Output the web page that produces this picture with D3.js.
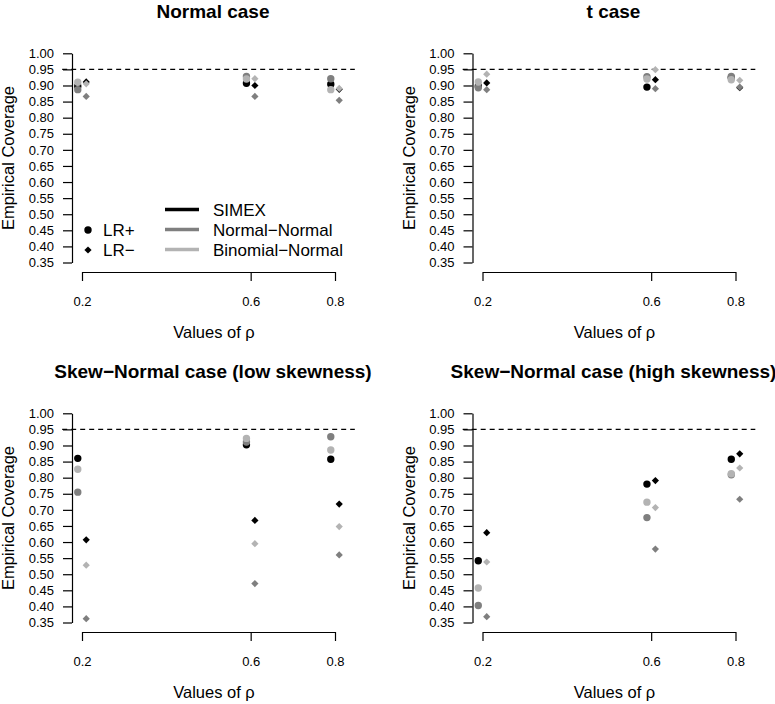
<!DOCTYPE html>
<html>
<head>
<meta charset="utf-8">
<script src="https://cdn.jsdelivr.net/npm/d3@7"></script>
<style>
  html, body { margin: 0; padding: 0; background: #fff; }
  svg { display: block; font-family: "Liberation Sans", Arial, Helvetica, sans-serif; }
</style>
</head>
<body>
<svg id="chart" width="775" height="704"></svg>
<script>
// ---------- data ----------
const rhoValues = [0.2, 0.6, 0.8];
const yTickValues = [0.35, 0.40, 0.45, 0.50, 0.55, 0.60, 0.65, 0.70, 0.75, 0.80, 0.85, 0.90, 0.95, 1.00];
const methods = ["SIMEX", "Normal\u2212Normal", "Binomial\u2212Normal"];
const measures = ["LR+", "LR\u2212"];
const nominal = 0.95;
const panelTitles = [
  "Normal case",
  "t case",
  "Skew\u2212Normal case (low skewness)",
  "Skew\u2212Normal case (high skewness)"
];

// each array: rows = SIMEX, Normal-Normal, Binomial-Normal ; columns = rho 0.2, 0.6, 0.8
const normalLRpos = [[0.898, 0.907, 0.904], [0.887, 0.928, 0.921], [0.910, 0.920, 0.887]];
const normalLRneg = [[0.911, 0.900, 0.888], [0.866, 0.866, 0.854], [0.905, 0.921, 0.891]];
const tLRpos      = [[0.898, 0.895, 0.924], [0.893, 0.927, 0.928], [0.911, 0.920, 0.918]];
const tLRneg      = [[0.908, 0.918, 0.893], [0.887, 0.890, 0.895], [0.935, 0.949, 0.916]];
const lowLRpos    = [[0.860, 0.902, 0.857], [0.755, 0.911, 0.927], [0.826, 0.922, 0.886]];
const lowLRneg    = [[0.607, 0.667, 0.718], [0.362, 0.471, 0.560], [0.528, 0.595, 0.648]];
const highLRpos   = [[0.542, 0.780, 0.857], [0.403, 0.676, 0.809], [0.457, 0.724, 0.812]];
const highLRneg   = [[0.629, 0.791, 0.874], [0.368, 0.578, 0.733], [0.538, 0.707, 0.830]];

// ---------- styling ----------
const methodColors = ["#000000", "#7f7f7f", "#b3b3b3"];
const svg = d3.select("#chart");

const panels = [
  { title: panelTitles[0], pos: normalLRpos, neg: normalLRneg, col: 0, row: 0, legend: true },
  { title: panelTitles[1], pos: tLRpos, neg: tLRneg, col: 1, row: 0 },
  { title: panelTitles[2], pos: lowLRpos, neg: lowLRneg, col: 0, row: 1 },
  { title: panelTitles[3], pos: highLRpos, neg: highLRneg, col: 1, row: 1 }
];

const jitter = 0.01;
const circleSym = d3.symbol().type(d3.symbolCircle).size(Math.PI * 3.7 * 3.7);
const diamondSym = d3.symbol().type(d3.symbolSquare).size(26);

panels.forEach(p => {
  const xo = p.col * 400.5;
  const yo = p.row * 360;
  const g = svg.append("g");

  const x = d3.scaleLinear().domain([0.2, 0.8]).range([82 + xo, 335 + xo]);
  const y = d3.scaleLinear().domain([0.35, 1.0]).range([262.5 + yo, 53.3 + yo]);

  // reference line
  g.append("line")
    .attr("x1", x(0.153)).attr("x2", x(0.847))
    .attr("y1", y(nominal)).attr("y2", y(nominal))
    .attr("stroke", "#000").attr("stroke-width", 1.2)
    .attr("stroke-dasharray", "5,4");

  // y axis
  const yAxis = d3.axisLeft(y).tickValues(yTickValues)
    .tickFormat(d3.format(".2f")).tickSize(9).tickSizeOuter(0).tickPadding(9);
  const ya = g.append("g").attr("transform", `translate(${72 + xo},0)`).call(yAxis);
  ya.selectAll("text").attr("font-size", 13).attr("fill", "#000")
    .attr("font-family", "'Liberation Sans', Arial, sans-serif");
  ya.selectAll("path, line").attr("stroke", "#000").attr("stroke-width", 1.2);

  // x axis
  const xAxis = d3.axisBottom(x).tickValues(rhoValues)
    .tickFormat(d3.format(".1f")).tickSize(9).tickSizeOuter(0).tickPadding(16);
  const xa = g.append("g").attr("transform", `translate(0,${272 + yo})`).call(xAxis);
  xa.selectAll("text").attr("font-size", 13).attr("fill", "#000")
    .attr("font-family", "'Liberation Sans', Arial, sans-serif");
  xa.selectAll("path, line").attr("stroke", "#000").attr("stroke-width", 1.2);

  // points
  methods.forEach((m, mi) => {
    g.selectAll(null).data(p.pos[mi]).enter().append("path")
      .attr("d", circleSym)
      .attr("transform", (d, i) => `translate(${x(rhoValues[i] - jitter)},${y(d)})`)
      .attr("fill", methodColors[mi]);
  });
  methods.forEach((m, mi) => {
    g.selectAll(null).data(p.neg[mi]).enter().append("path")
      .attr("d", diamondSym)
      .attr("transform", (d, i) => `translate(${x(rhoValues[i] + jitter)},${y(d)}) rotate(45)`)
      .attr("fill", methodColors[mi]);
  });

  // title
  g.append("text").attr("x", 213 + xo).attr("y", 17.5 + yo)
    .attr("text-anchor", "middle").attr("font-size", 19).attr("font-weight", "bold")
    .text(p.title);

  // axis titles
  g.append("text").attr("x", 214 + xo).attr("y", 338 + yo)
    .attr("text-anchor", "middle").attr("font-size", 16.5)
    .text("Values of \u03c1");
  g.append("text")
    .attr("transform", `translate(${14 + xo},${158 + yo}) rotate(-90)`)
    .attr("text-anchor", "middle").attr("font-size", 16.5)
    .text("Empirical Coverage");

  // legend
  if (p.legend) {
    const lg = g.append("g");
    measures.forEach((m, i) => {
      lg.append("path")
        .attr("d", i === 0 ? circleSym : diamondSym)
        .attr("transform", `translate(88,${230 + i * 20})` + (i === 1 ? " rotate(45)" : ""))
        .attr("fill", "#000");
      lg.append("text").attr("x", 103).attr("y", 236 + i * 20)
        .attr("font-size", 17).text(m);
    });
    methods.forEach((m, i) => {
      lg.append("line").attr("x1", 165).attr("x2", 199)
        .attr("y1", 209.5 + i * 20).attr("y2", 209.5 + i * 20)
        .attr("stroke", methodColors[i]).attr("stroke-width", 3.5);
      lg.append("text").attr("x", 213).attr("y", 215.5 + i * 20)
        .attr("font-size", 17).text(m);
    });
  }
});
</script>
</body>
</html>
